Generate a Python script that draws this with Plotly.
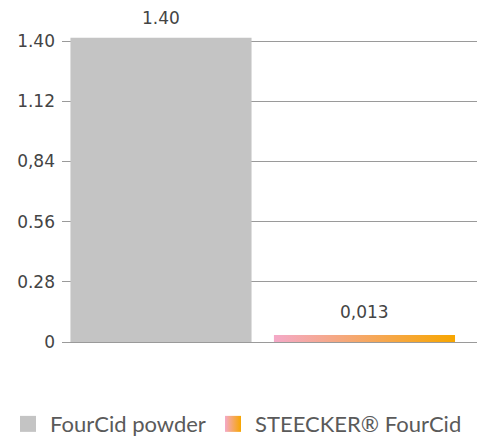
import plotly.graph_objects as go

categories = ["FourCid powder", "STEECKER® FourCid"]
values = [1.415, 0.033]
value_labels = ["1.40", "0,013"]
tick_vals = [0, 0.28, 0.56, 0.84, 1.12, 1.40]
tick_text = ["0", "0.28", "0.56", "0,84", "1.12", "1.40"]

positions = [0, 1]
bar_w = 0.89
grad = ["#F4A9C8", "#F7A600"]

fig = go.Figure()

fig.add_trace(go.Bar(
    x=[positions[0]], y=[values[0]], width=bar_w,
    marker=dict(color="#C4C4C4", line=dict(width=0)),
    showlegend=False, hoverinfo="skip",
))

x0 = positions[1] - bar_w / 2
x1 = positions[1] + bar_w / 2
fig.add_trace(go.Scatter(
    x=[x0, x1, x1, x0, x0], y=[0, 0, values[1], values[1], 0],
    mode="lines", fill="toself",
    line=dict(width=0, color="rgba(0,0,0,0)"),
    fillgradient=dict(type="horizontal",
                      colorscale=[[0, grad[0]], [1, grad[1]]]),
    showlegend=False, hoverinfo="skip",
))

# legend entries
fig.add_trace(go.Scatter(
    x=[None], y=[None], mode="markers", name=categories[0], legend="legend",
    marker=dict(symbol="square", size=22, color="#C4C4C4", line=dict(width=0)),
))
fig.add_trace(go.Scatter(
    x=[None], y=[None], mode="markers", name=categories[1], legend="legend2",
    marker=dict(symbol="square", size=22, color=grad[0], line=dict(width=0),
                gradient=dict(type="horizontal", color=grad[1])),
))

for p, v, t, ys in zip(positions, values, value_labels, [8, 11]):
    fig.add_annotation(x=p, y=v, text=t, showarrow=False, yanchor="bottom",
                       yshift=ys, font=dict(family="DejaVu Sans", size=17, color="#444"))

leg_common = dict(orientation="h", xref="container", yref="container",
                  y=0.034, xanchor="left", yanchor="middle",
                  font=dict(family="Lato", size=22, color="#5A5A5A"),
                  itemsizing="trace", itemwidth=34, bgcolor="rgba(0,0,0,0)")

fig.update_layout(
    width=477, height=439,
    margin=dict(l=62, r=0, t=20, b=97),
    plot_bgcolor="white", paper_bgcolor="white",
    showlegend=True,
    legend=dict(x=6 / 477, **leg_common),
    legend2=dict(x=211 / 477, **leg_common),
    xaxis=dict(range=[-0.4865, 1.553], showticklabels=False, showgrid=False,
               zeroline=False, showline=False, fixedrange=True),
    yaxis=dict(range=[0, 1.4977], tickvals=tick_vals, ticktext=tick_text,
               showgrid=True, gridcolor="#9A9A9A", gridwidth=1.2,
               zeroline=True, zerolinecolor="#9A9A9A", zerolinewidth=1.2,
               showline=False, ticks="", ticklabelstandoff=6,
               tickfont=dict(family="DejaVu Sans", size=17, color="#444")),
)

fig.write_html("out.html", config={"displayModeBar": False},
               post_script="document.body.style.margin='0';")
